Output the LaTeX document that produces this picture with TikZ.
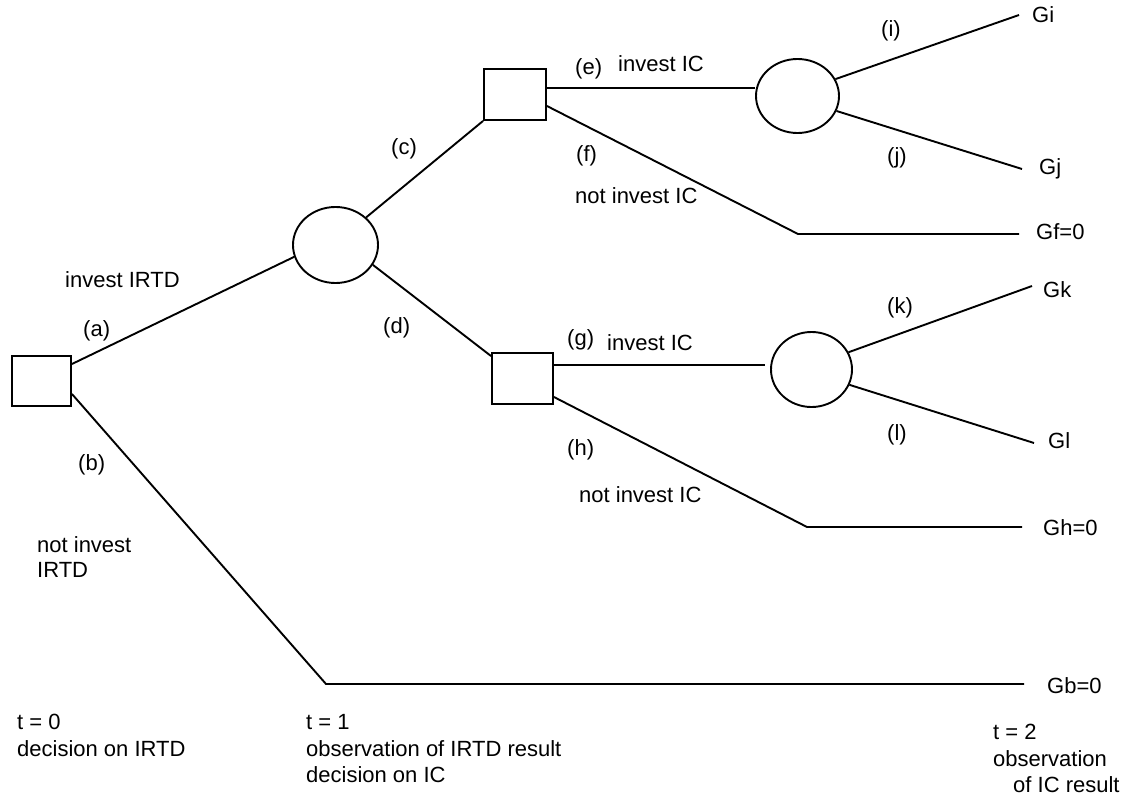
\documentclass[tikz,border=0pt]{standalone}
\usepackage{fontspec}
\setmainfont{Liberation Sans}
\usetikzlibrary{shapes.geometric}
\begin{document}
\begin{tikzpicture}[x=1pt,y=-1pt,
  link/.style={line width=1.9pt},
  dbox/.style={draw,line width=1.9pt,rectangle,inner sep=0pt},
  chance/.style={draw,line width=1.9pt,ellipse,inner sep=0pt},
  lbl/.style={inner sep=0pt,anchor=base west,font=\fontsize{22}{26}\selectfont}]
\useasboundingbox (0,0) rectangle (1130,797);

% decision and chance nodes
\node[dbox,minimum width=59pt,minimum height=50pt] (A) at (41.5,381) {};
\node[chance,minimum width=85pt,minimum height=76pt] (C1) at (335.5,245) {};
\node[dbox,minimum width=62pt,minimum height=51pt] (B1) at (515,94.5) {};
\node[dbox,minimum width=61pt,minimum height=51pt] (B2) at (522.5,378.5) {};
\node[chance,minimum width=83pt,minimum height=74pt] (C2) at (797.5,96) {};
\node[chance,minimum width=81pt,minimum height=75pt] (C3) at (811.5,369.5) {};

% free ends
\coordinate (bk) at (326,684);
\coordinate (be) at (1024,684);
\coordinate (fk) at (798,234);
\coordinate (fe) at (1019,234);
\coordinate (hk) at (807,527);
\coordinate (he) at (1022,527);
\coordinate (ie) at (1019,15);
\coordinate (je) at (1022,169);
\coordinate (ke) at (1032,286);
\coordinate (le) at (1034,443);

% connectors
\draw[link] ([yshift=17pt]A.east) -- (C1.196.5);
\draw[link] ([yshift=-13pt]A.east) -- (bk) -- (be);
\draw[link] (C1.42) -- (B1.south west);
\draw[link] (C1.-28) -- ([yshift=-4pt]B2.north west);
\draw[link] ([yshift=6.5pt]B1.east) -- ([yshift=8pt]C2.west);
\draw[link] ([yshift=-11.5pt]B1.east) -- (fk) -- (fe);
\draw[link, shorten >=5pt] ([yshift=13.5pt]B2.east) -- ([yshift=4.5pt]C3.west);
\draw[link] ([yshift=-18.5pt]B2.east) -- (hk) -- (he);
\draw[link] (C2.24) -- (ie);
\draw[link] (C2.-21) -- (je);
\draw[link] (C3.25.6) -- (ke);
\draw[link] (C3.-22) -- (le);

% branch labels
\node[lbl] (la) at (83,336) {(a)};
\node[lbl] (tinv) at (65,287) {invest IRTD};
\node[lbl] (lb) at (78,470) {(b)};
\node[lbl] (tni1) at (37,552) {not invest};
\node[lbl] (tni2) at (37,577) {IRTD};
\node[lbl] (lc) at (391,155) {(c)};
\node[lbl] (ld) at (383,333) {(d)};
\node[lbl] (le1) at (575,75) {(e)};
\node[lbl] (te) at (618,72) {invest IC};
\node[lbl] (lf) at (576,162) {(f)};
\node[lbl] (tf) at (575,203) {not invest IC};
\node[lbl] (lg) at (567,345) {(g)};
\node[lbl] (tg) at (607,350) {invest IC};
\node[lbl] (lh) at (567,455) {(h)};
\node[lbl] (th) at (579,502) {not invest IC};
\node[lbl] (li) at (881,37) {(i)};
\node[lbl] (lj) at (887,164) {(j)};
\node[lbl] (lk) at (887,313) {(k)};
\node[lbl] (ll) at (887,440) {(l)};

% outcomes
\node[lbl] (Gi) at (1032,23) {Gi};
\node[lbl] (Gj) at (1039,175) {Gj};
\node[lbl] (Gf) at (1036,239) {Gf=0};
\node[lbl] (Gk) at (1043,297) {Gk};
\node[lbl] (Gl) at (1048,448) {Gl};
\node[lbl] (Gh) at (1043,535) {Gh=0};
\node[lbl] (Gb) at (1047,693) {Gb=0};

% time stages
\node[lbl] (t0a) at (17,729) {t = 0};
\node[lbl] (t0b) at (17,756) {decision on IRTD};
\node[lbl] (t1a) at (306,729) {t = 1};
\node[lbl] (t1b) at (306,756) {observation of IRTD result};
\node[lbl] (t1c) at (306,782) {decision on IC};
\node[lbl] (t2a) at (993,739) {t = 2};
\node[lbl] (t2b) at (993,766) {observation};
\node[lbl] (t2c) at (1013,792) {of IC result};
\end{tikzpicture}
\end{document}
